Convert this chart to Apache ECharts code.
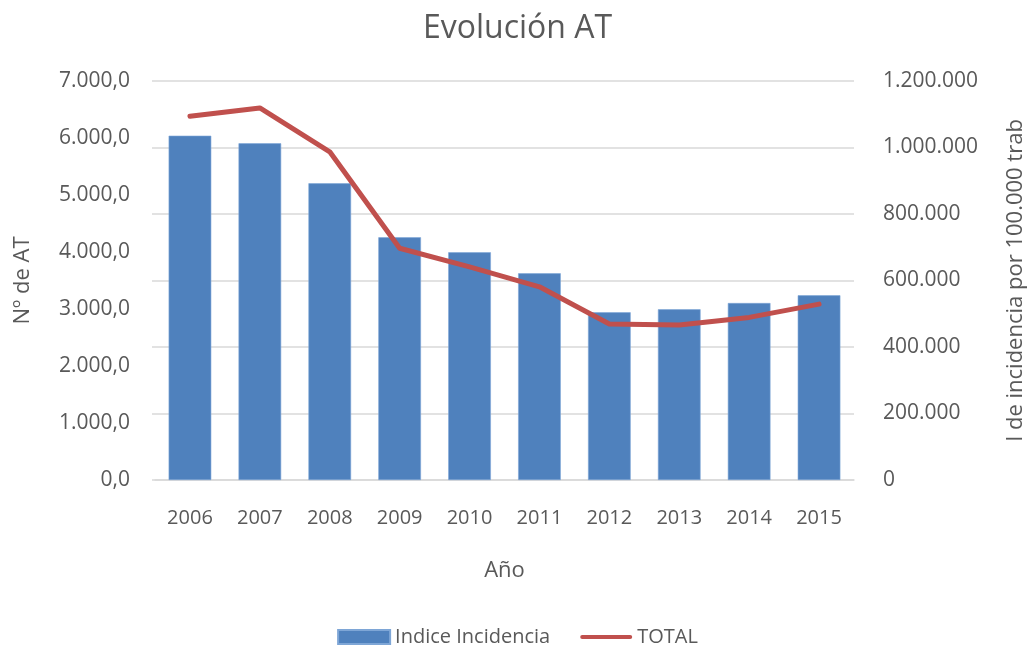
<!DOCTYPE html>
<html>
<head>
<meta charset="utf-8">
<script src="https://cdn.jsdelivr.net/npm/echarts@6/dist/echarts.min.js"></script>
<style>html,body{margin:0;padding:0;background:#fff}#c{width:1035px;height:653px}</style>
</head>
<body>
<div id="c"></div>
<script>
var years = ['2006','2007','2008','2009','2010','2011','2012','2013','2014','2015'];
var indiceIncidencia = [6040, 5907, 5205, 4258, 3995, 3626, 2942, 2995, 3105, 3240];
var total = [1094000, 1119000, 987000, 697000, 641000, 581000, 469000, 466000, 489000, 529000];

var FONT = '"Open Sans", "Noto Sans", sans-serif';
var TXT = '#595959';
function fmtLeft(v){
  var s = Math.round(v).toString().replace(/\B(?=(\d{3})+(?!\d))/g, '.');
  return s + ',0';
}
function fmtRight(v){
  return Math.round(v).toString().replace(/\B(?=(\d{3})+(?!\d))/g, '.');
}
var chart = echarts.init(document.getElementById('c'));
chart.setOption({
  backgroundColor: '#fff',
  animation: false,
  title: {
    text: 'Evolución AT', left: 'center', top: 8,
    textStyle: {fontFamily: FONT, fontSize: 32, fontWeight: 'normal', color: TXT}
  },
  legend: {
    bottom: 1, left: 'center',
    itemWidth: 52, itemHeight: 14, itemGap: 30,
    textStyle: {fontFamily: FONT, fontSize: 20, color: TXT},
    data: [
      {name: 'Indice Incidencia', icon: 'rect'},
      {name: 'TOTAL', icon: 'path://M2,0 L50,0 A2,2 0 0 1 50,4 L2,4 A2,2 0 0 1 2,0 Z', itemStyle: {color: '#c0504d'}}
    ]
  },
  grid: {left: 155, right: 180, top: 81, bottom: 173},
  xAxis: {
    type: 'category', data: years,
    name: 'Año', nameLocation: 'middle', nameGap: 80,
    nameTextStyle: {fontFamily: FONT, fontSize: 22, color: TXT},
    axisLine: {lineStyle: {color: '#d9d9d9', width: 1.5}},
    axisTick: {show: false},
    axisLabel: {fontFamily: FONT, fontSize: 20, color: TXT, margin: 28}
  },
  yAxis: [
    {
      type: 'value', min: 0, max: 7000, interval: 1000, position: 'left',
      name: 'Nº de AT', nameLocation: 'middle', nameGap: 121, nameRotate: 90,
      nameTextStyle: {fontFamily: FONT, fontSize: 22, color: TXT},
      axisLine: {show: false}, axisTick: {show: false},
      splitLine: {show: false},
      axisLabel: {fontFamily: FONT, fontSize: 21, color: TXT, margin: 25, formatter: fmtLeft}
    },
    {
      type: 'value', min: 0, max: 1200000, interval: 200000, position: 'right',
      name: 'I de incidencia por 100.000 trab', nameLocation: 'middle', nameGap: 151, nameRotate: 90,
      nameTextStyle: {fontFamily: FONT, fontSize: 22, color: TXT},
      axisLine: {show: false}, axisTick: {show: false},
      splitLine: {show: true, lineStyle: {color: '#d9d9d9', width: 1.5}},
      axisLabel: {fontFamily: FONT, fontSize: 21, color: TXT, margin: 29, formatter: fmtRight}
    },
    {
      type: 'value', min: 0, max: 1200000, interval: 200000, position: 'left',
      axisLine: {show: false},
      axisTick: {show: true, inside: false, length: 3, lineStyle: {color: '#d9d9d9', width: 1.5}},
      splitLine: {show: false},
      axisLabel: {show: false}
    }
  ],
  series: [
    {
      name: 'Indice Incidencia', type: 'bar', yAxisIndex: 0, data: indiceIncidencia,
      barCategoryGap: '39%',
      itemStyle: {color: '#4f81bd', borderColor: '#7ea6d6', borderWidth: 0.6}
    },
    {
      name: 'TOTAL', type: 'line', yAxisIndex: 1, data: total,
      symbol: 'none',
      lineStyle: {color: '#c0504d', width: 5, cap: 'round', join: 'round'},
      itemStyle: {color: '#c0504d'}
    }
  ]
});
</script>
</body>
</html>
